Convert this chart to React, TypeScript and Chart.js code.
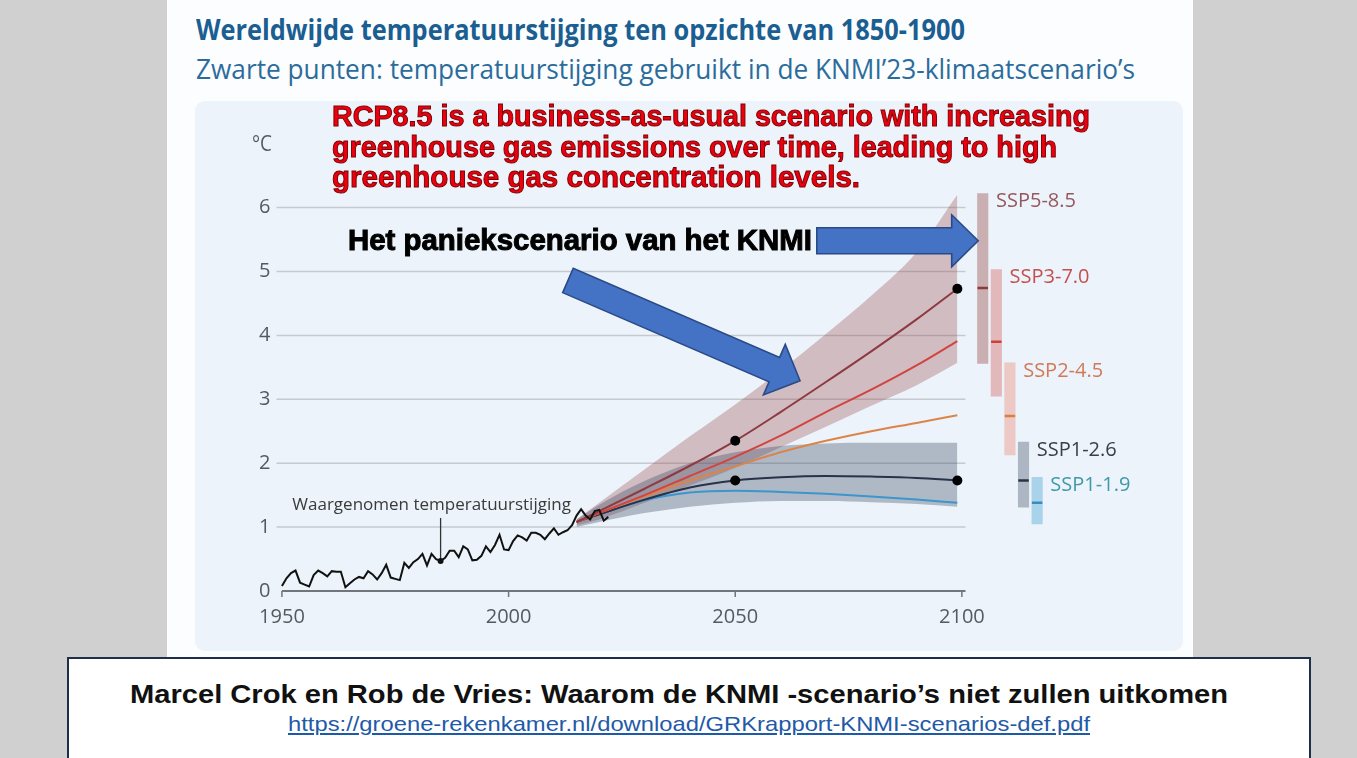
import React, { useEffect, useLayoutEffect, useRef } from 'react';
import { Chart, registerables } from 'chart.js';

Chart.register(...registerables);

// ---------------- DATA ----------------
const OBS_START_YEAR = 1950;
const observed = [
  0.08, 0.2, 0.28, 0.32, 0.13, 0.1, 0.07, 0.25, 0.32, 0.28,
  0.23, 0.31, 0.3, 0.3, 0.06, 0.12, 0.18, 0.22, 0.2, 0.31,
  0.26, 0.18, 0.28, 0.41, 0.21, 0.19, 0.17, 0.44, 0.36, 0.45,
  0.5, 0.58, 0.4, 0.58, 0.5, 0.47, 0.52, 0.63, 0.63, 0.53,
  0.7, 0.65, 0.48, 0.49, 0.55, 0.7, 0.61, 0.72, 0.88, 0.65,
  0.64, 0.78, 0.87, 0.84, 0.79, 0.91, 0.91, 0.88, 0.81, 0.9,
  0.98, 0.88, 0.92, 0.95, 1.03, 1.18, 1.28, 1.18, 1.12, 1.25,
  1.27, 1.1, 1.16,
];
const OBS_MARK_YEAR = 1985;

const scenarioYears = [2015, 2020, 2030, 2040, 2050, 2060, 2070, 2080, 2090, 2099];
const ssp585 = [1.08, 1.25, 1.6, 1.96, 2.35, 2.8, 3.27, 3.75, 4.25, 4.73];
const ssp370 = [1.08, 1.22, 1.5, 1.8, 2.1, 2.43, 2.8, 3.15, 3.53, 3.91];
const ssp245 = [1.08, 1.22, 1.48, 1.73, 1.95, 2.17, 2.35, 2.5, 2.63, 2.75];
const ssp126 = [1.08, 1.2, 1.43, 1.62, 1.73, 1.78, 1.8, 1.79, 1.77, 1.73];
const ssp119 = [1.08, 1.2, 1.42, 1.54, 1.57, 1.55, 1.52, 1.48, 1.43, 1.38];

const band585Low = [1.03, 1.12, 1.38, 1.65, 1.93, 2.25, 2.57, 2.9, 3.22, 3.57];
const band585High = [1.12, 1.38, 1.9, 2.42, 2.92, 3.45, 4.02, 4.62, 5.3, 6.2];
const band126Low = [1.0, 1.08, 1.22, 1.32, 1.38, 1.41, 1.41, 1.39, 1.36, 1.32];
const band126High = [1.12, 1.35, 1.72, 2.0, 2.17, 2.27, 2.31, 2.32, 2.32, 2.32];

const knmiDotYears = [2050, 2099, 2050, 2099];
const knmiDotValues = [2.35, 4.73, 1.73, 1.73];

const rangeLabels = ['SSP5-8.5', 'SSP3-7.0', 'SSP2-4.5', 'SSP1-2.6', 'SSP1-1.9'];
const rangeX = [2104.6, 2107.6, 2110.6, 2113.6, 2116.6];
const rangeLow = [3.56, 3.05, 2.13, 1.31, 1.05];
const rangeHigh = [6.22, 5.03, 3.57, 2.33, 1.78];
const rangeMedian = [4.74, 3.9, 2.74, 1.73, 1.38];

const yTicks = [0, 1, 2, 3, 4, 5, 6];
const xTicks = [1950, 2000, 2050, 2100];

// ---------------- STYLE ----------------
const lineColors = ['#8e3a40', '#d2443f', '#dc8448', '#28324a', '#3c95cc'];
const rangeFill = ['#c9afb2', '#e2b8bb', '#ecc9c5', '#adb7c3', '#a9d3ea'];
const rangeMedianColor = ['#8c3b3b', '#d0403a', '#d98040', '#2b3340', '#3a8cc0'];
const rangeLabelColor = ['#94585c', '#c4504e', '#d07a58', '#3a3e46', '#3f9aa8'];
const GRID_END = 2100.8;

const OS = '"Open Sans", "Noto Sans", sans-serif';
const LS = '"Liberation Sans", Arial, sans-serif';

const xy = (xs: number[], ys: number[]) => xs.map((x, i) => ({ x, y: ys[i] }));

function drawArrow(ctx: CanvasRenderingContext2D, tx: number, ty: number, hx: number, hy: number, bodyW: number, headW: number, headL: number) {
  const dx = hx - tx, dy = hy - ty;
  const len = Math.hypot(dx, dy);
  const ux = dx / len, uy = dy / len;
  const nx = -uy, ny = ux;
  const bx = hx - ux * headL, by = hy - uy * headL;
  const b = bodyW / 2, h = headW / 2;
  ctx.beginPath();
  ctx.moveTo(tx + nx * b, ty + ny * b);
  ctx.lineTo(bx + nx * b, by + ny * b);
  ctx.lineTo(bx + nx * h, by + ny * h);
  ctx.lineTo(hx, hy);
  ctx.lineTo(bx - nx * h, by - ny * h);
  ctx.lineTo(bx - nx * b, by - ny * b);
  ctx.lineTo(tx - nx * b, ty - ny * b);
  ctx.closePath();
  ctx.fillStyle = '#4472c4';
  ctx.fill();
  ctx.strokeStyle = '#2a4a86';
  ctx.lineWidth = 1.6;
  ctx.stroke();
}

const overlayPlugin = {
  id: 'overlay',
  beforeDatasetsDraw(chart: any) {
    const { ctx, chartArea, scales } = chart;
    const x = scales.x, y = scales.y;
    ctx.save();
    const gx1 = x.getPixelForValue(GRID_END);
    ctx.strokeStyle = '#c5cad0';
    ctx.lineWidth = 1.5;
    yTicks.forEach((v) => {
      if (v === 0) return;
      const py = y.getPixelForValue(v);
      ctx.beginPath();
      ctx.moveTo(chartArea.left, py);
      ctx.lineTo(gx1, py);
      ctx.stroke();
    });
    const py0 = y.getPixelForValue(0);
    ctx.strokeStyle = '#70767c';
    ctx.lineWidth = 1.8;
    ctx.beginPath();
    ctx.moveTo(x.getPixelForValue(xTicks[0]), py0);
    ctx.lineTo(gx1, py0);
    ctx.stroke();
    ctx.lineWidth = 1.5;
    xTicks.forEach((v) => {
      const px = x.getPixelForValue(v);
      ctx.beginPath();
      ctx.moveTo(px, py0);
      ctx.lineTo(px, py0 + 6);
      ctx.stroke();
    });
    ctx.restore();
  },
  afterDatasetsDraw(chart: any) {
    const { ctx, scales } = chart;
    const x = scales.x, y = scales.y;
    ctx.save();
    // observed annotation
    const mv = observed[OBS_MARK_YEAR - OBS_START_YEAR];
    const mx = x.getPixelForValue(OBS_MARK_YEAR);
    const my = y.getPixelForValue(mv);
    ctx.strokeStyle = '#333';
    ctx.lineWidth = 1.3;
    ctx.beginPath();
    ctx.moveTo(mx, my);
    ctx.lineTo(mx, my - 43);
    ctx.stroke();
    ctx.fillStyle = '#111';
    ctx.beginPath();
    ctx.arc(mx, my, 3, 0, Math.PI * 2);
    ctx.fill();
    ctx.font = `17px ${OS}`;
    ctx.fillStyle = '#3a3a3a';
    ctx.textAlign = 'center';
    ctx.textBaseline = 'alphabetic';
    ctx.fillText('Waargenomen temperatuurstijging', mx - 9, my - 51);

    // range labels
    ctx.font = `20px ${OS}`;
    ctx.textAlign = 'left';
    ctx.textBaseline = 'middle';
    rangeLabels.forEach((lab, i) => {
      const px = x.getPixelForValue(rangeX[i]) + 5.25 + 8;
      const py = y.getPixelForValue(rangeHigh[i]) + 8;
      ctx.fillStyle = rangeLabelColor[i];
      ctx.fillText(lab, px, py);
    });

    // arrows (anchored in data coordinates)
    drawArrow(ctx, x.getPixelForValue(2068.0), y.getPixelForValue(5.48), x.getPixelForValue(2103.6), y.getPixelForValue(5.48), 26, 52, 26.5);
    drawArrow(ctx, x.getPixelForValue(2013.1), y.getPixelForValue(4.86), x.getPixelForValue(2064.3), y.getPixelForValue(3.29), 26.6, 55, 28);
    ctx.restore();
  },
};

// ---------------- TEXT HELPER ----------------
type FitProps = {
  text: string; x: number; baseline: number; width: number; size: number;
  family: string; weight?: number; color: string; ratio: number; extra?: React.CSSProperties;
};
function FitText({ text, x, baseline, width, size, family, weight = 400, color, ratio, extra }: FitProps) {
  const ref = useRef<HTMLDivElement>(null);
  useLayoutEffect(() => {
    const el = ref.current;
    if (!el) return;
    const fit = () => {
      el.style.transform = 'none';
      const w = el.getBoundingClientRect().width;
      if (w > 0) el.style.transform = `scaleX(${width / w})`;
    };
    fit();
    if ((document as any).fonts && (document as any).fonts.ready) (document as any).fonts.ready.then(fit);
  }, [text, width]);
  return (
    <div
      ref={ref}
      style={{
        position: 'absolute', left: x, top: baseline - ratio * size, whiteSpace: 'nowrap',
        fontFamily: family, fontSize: size, fontWeight: weight, lineHeight: `${size}px`, color,
        transformOrigin: '0 0', ...extra,
      }}
    >
      {text}
    </div>
  );
}
const OSR = 0.888;
const LSR = 0.8465;

const RED_STYLE = { WebkitTextStroke: '1px #7a0000' } as any;

export default function App() {
  const canvasRef = useRef<HTMLCanvasElement>(null);
  useEffect(() => {
    const canvas = canvasRef.current;
    if (!canvas) return;
    const lineDs = (data: number[], color: string) => ({
      type: 'line', data: xy(scenarioYears, data), borderColor: color, borderWidth: 2,
      pointRadius: 0, cubicInterpolationMode: 'monotone', fill: false, order: 3,
    });
    const chart = new Chart(canvas, {
      type: 'line',
      data: {
        datasets: [
          { type: 'line', data: observed.map((v, i) => ({ x: OBS_START_YEAR + i, y: v })), borderColor: '#111', borderWidth: 2, pointRadius: 0, fill: false, order: 2 },
          lineDs(ssp585, lineColors[0]),
          lineDs(ssp370, lineColors[1]),
          lineDs(ssp245, lineColors[2]),
          lineDs(ssp126, lineColors[3]),
          lineDs(ssp119, lineColors[4]),
          // 6: band 585 low
          { type: 'line', data: xy(scenarioYears, band585Low), borderColor: 'rgba(0,0,0,0)', borderWidth: 1, pointRadius: 0, cubicInterpolationMode: 'monotone', fill: false, order: 12 },
          // 7: band 585 high
          { type: 'line', data: xy(scenarioYears, band585High), borderColor: 'rgba(0,0,0,0)', borderWidth: 1, pointRadius: 0, cubicInterpolationMode: 'monotone', fill: 6, backgroundColor: 'rgba(150,72,74,0.32)', order: 11 },
          // 8: band 126 low
          { type: 'line', data: xy(scenarioYears, band126Low), borderColor: 'rgba(0,0,0,0)', borderWidth: 1, pointRadius: 0, cubicInterpolationMode: 'monotone', fill: false, order: 10 },
          // 9: band 126 high
          { type: 'line', data: xy(scenarioYears, band126High), borderColor: 'rgba(0,0,0,0)', borderWidth: 1, pointRadius: 0, cubicInterpolationMode: 'monotone', fill: 8, backgroundColor: 'rgba(52,68,92,0.33)', order: 9 },
          // range bars
          { type: 'bar', data: rangeX.map((xv, i) => ({ x: xv, y: [rangeLow[i], rangeHigh[i]] })), backgroundColor: rangeFill, borderWidth: 0, barThickness: 10.5, grouped: false, order: 8 },
          // medians
          { type: 'line', showLine: false, data: xy(rangeX, rangeMedian), pointStyle: 'line', pointRadius: 5.25, pointBorderWidth: 2.5, pointBorderColor: rangeMedianColor, order: 7 },
          // KNMI dots
          { type: 'line', showLine: false, data: xy(knmiDotYears, knmiDotValues), pointRadius: 5, pointBackgroundColor: '#000', pointBorderColor: '#000', pointBorderWidth: 0, order: 1 },
        ] as any,
      },
      options: {
        animation: false,
        responsive: true,
        maintainAspectRatio: false,
        devicePixelRatio: 1,
        events: [],
        layout: { padding: { left: 0, right: 121.4, top: 81, bottom: 0 } },
        plugins: { legend: { display: false }, tooltip: { enabled: false }, title: { display: false } },
        scales: {
          x: {
            type: 'linear', min: 1948.8, max: 2122, offset: false,
            grid: { display: false, drawTicks: false }, border: { display: false },
            afterBuildTicks: (s: any) => { s.ticks = xTicks.map((v) => ({ value: v })); },
            afterFit: (s: any) => { s.height = 60; },
            ticks: { font: { family: OS, size: 20 }, color: '#555a60', padding: 14, maxRotation: 0, autoSkip: false, callback: (v: any) => String(v) },
          },
          y: {
            type: 'linear', min: 0, max: 6.4,
            grid: { display: false, drawTicks: false }, border: { display: false },
            afterBuildTicks: (s: any) => { s.ticks = yTicks.map((v) => ({ value: v })); },
            afterFit: (s: any) => { s.width = 81.5; },
            ticks: { font: { family: OS, size: 20 }, color: '#555a60', padding: 6, callback: (v: any) => String(v) },
          },
        },
      } as any,
      plugins: [overlayPlugin as any],
    });
    return () => chart.destroy();
  }, []);

  return (
    <div style={{ position: 'absolute', left: 0, top: 0, width: 1357, height: 758, background: '#d0d0d0', overflow: 'hidden' }}>
      <div style={{ position: 'absolute', left: 167, top: 0, width: 1026, height: 658, background: '#fbfdfe' }} />
      <div style={{ position: 'absolute', left: 195, top: 101, width: 988, height: 550, background: '#ecf3fa', borderRadius: 10 }} />

      <FitText text="Wereldwijde temperatuurstijging ten opzichte van 1850-1900" x={196} baseline={40} width={769} size={28} family={OS} weight={700} color="#1b5e91" ratio={OSR} />
      <FitText text="Zwarte punten: temperatuurstijging gebruikt in de KNMI’23-klimaatscenario’s" x={196} baseline={79} width={939} size={27} family={OS} color="#2b6c9c" ratio={OSR} />

      <div style={{ position: 'absolute', left: 195, top: 101, width: 988, height: 550 }}>
        <canvas ref={canvasRef} />
      </div>

      <FitText text="°C" x={251.5} baseline={151.5} width={20} size={21} family={OS} color="#555a60" ratio={OSR} />

      <FitText text="RCP8.5 is a business-as-usual scenario with increasing" x={332} baseline={126.5} width={758} size={30} family={LS} weight={700} color="#ec0010" ratio={LSR} extra={RED_STYLE} />
      <FitText text="greenhouse gas emissions over time, leading to high" x={332} baseline={157} width={725} size={30} family={LS} weight={700} color="#ec0010" ratio={LSR} extra={RED_STYLE} />
      <FitText text="greenhouse gas concentration levels." x={332} baseline={187.5} width={528} size={30} family={LS} weight={700} color="#ec0010" ratio={LSR} extra={RED_STYLE} />
      <FitText text="Het paniekscenario van het KNMI" x={348} baseline={251} width={464} size={29} family={LS} weight={700} color="#000" ratio={LSR} extra={{ WebkitTextStroke: '1px #000' } as any} />

      <div style={{ position: 'absolute', left: 67, top: 657, width: 1244, height: 120, background: '#ffffff', border: '2px solid #1f2f4a', boxSizing: 'border-box' }} />
      <FitText text="Marcel Crok en Rob de Vries: Waarom de KNMI -scenario’s niet zullen uitkomen" x={130} baseline={703.5} width={1098} size={25} family={LS} weight={700} color="#111" ratio={LSR} />
      <FitText text="https://groene-rekenkamer.nl/download/GRKrapport-KNMI-scenarios-def.pdf" x={288} baseline={731} width={802} size={21} family={LS} color="#1f5aa8" ratio={LSR} extra={{ textDecoration: 'underline' }} />
    </div>
  );
}
